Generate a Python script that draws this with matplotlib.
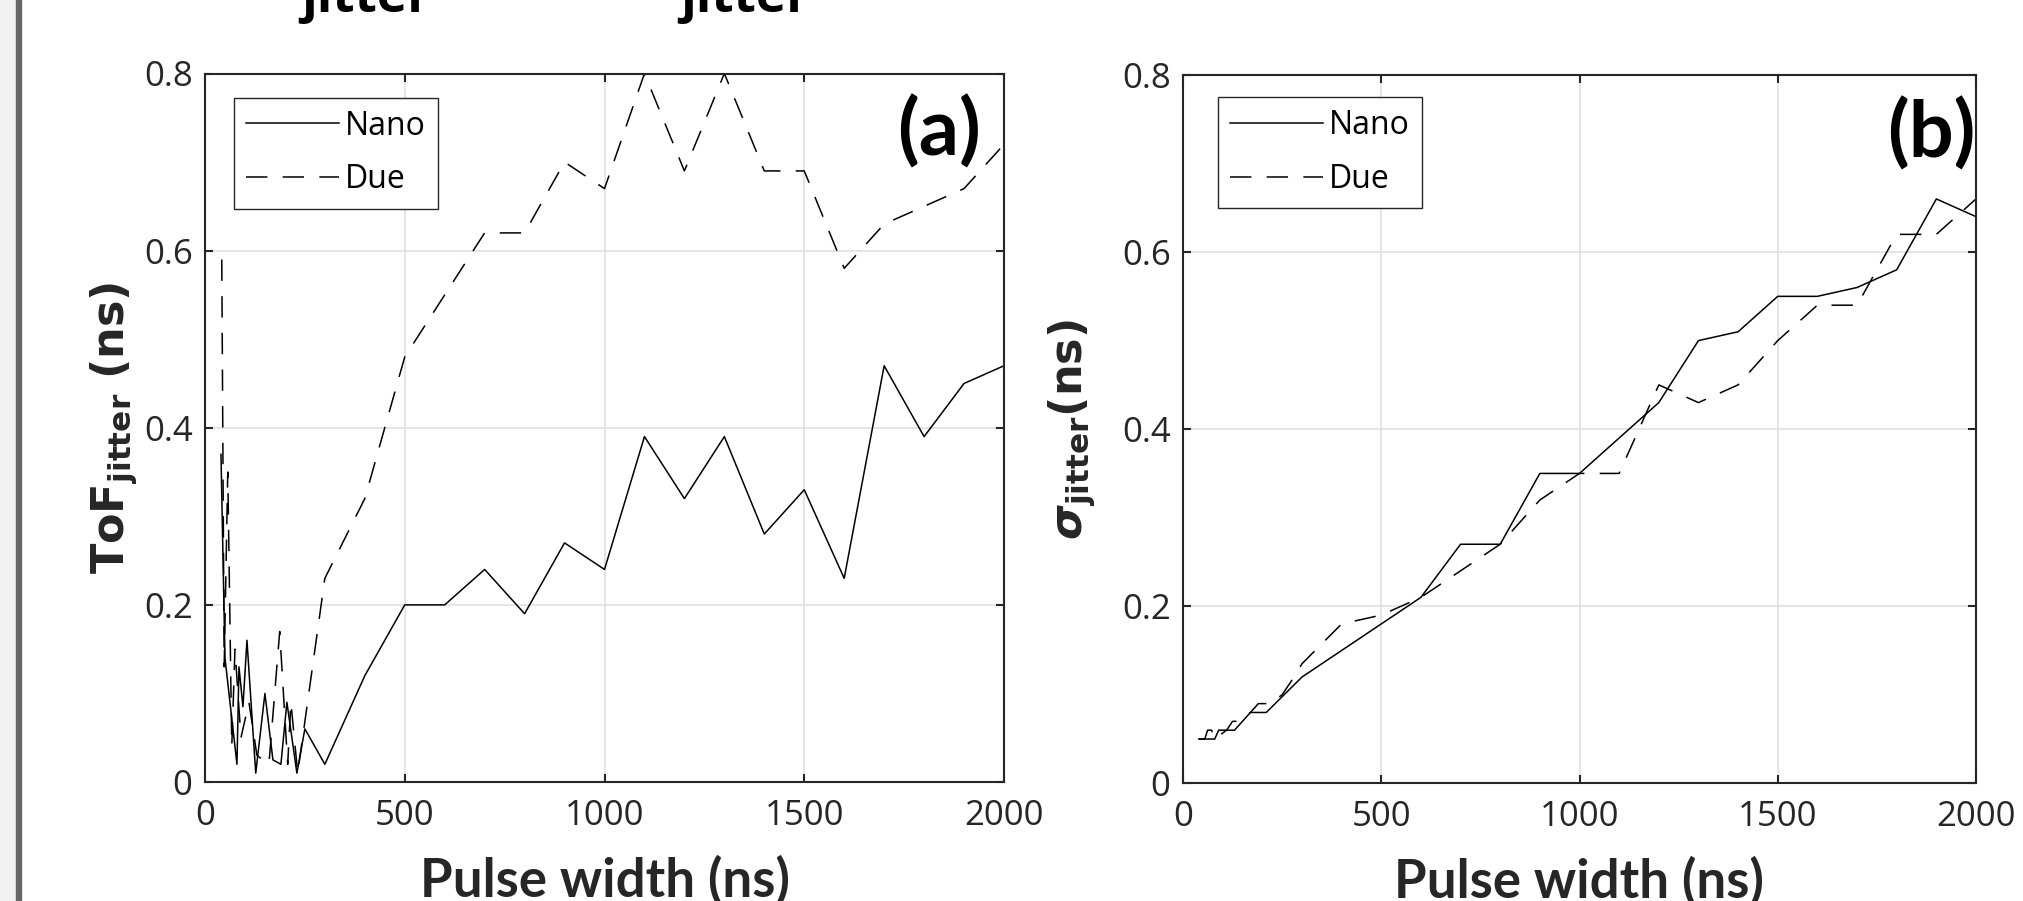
import numpy as np
import matplotlib
matplotlib.use("Agg")
from matplotlib import pyplot as plt
from matplotlib.patches import Rectangle

# panel (a): ToF jitter (ns) vs pulse width (ns)
nano_a_x = [40, 50, 80, 85, 95, 105, 127, 150, 170, 190, 205, 230, 250, 300, 400,
            500, 600, 700, 800, 900, 1000, 1100, 1200, 1300, 1400, 1500, 1600, 1700, 1800, 1900, 2000]
nano_a_y = [0.37, 0.14, 0.02, 0.13, 0.085, 0.16, 0.01, 0.10, 0.025, 0.02, 0.09, 0.01, 0.06, 0.02, 0.12,
            0.20, 0.20, 0.24, 0.19, 0.27, 0.24, 0.39, 0.32, 0.39, 0.28, 0.33, 0.23, 0.47, 0.39, 0.45, 0.47]
due_a_x = [42, 48, 57, 67, 75, 90, 110, 130, 160, 187, 207, 215, 232, 300, 400,
           500, 600, 700, 800, 900, 1000, 1100, 1200, 1300, 1400, 1500, 1600, 1700, 1800, 1900, 2000]
due_a_y = [0.59, 0.13, 0.35, 0.04, 0.15, 0.05, 0.09, 0.03, 0.02, 0.17, 0.02, 0.09, 0.01, 0.23, 0.32,
           0.48, 0.55, 0.62, 0.62, 0.70, 0.67, 0.80, 0.69, 0.80, 0.69, 0.69, 0.58, 0.63, 0.65, 0.67, 0.72]

# panel (b): sigma jitter (ns) vs pulse width (ns)
nano_b_x = [40, 80, 90, 130, 170, 210, 300,
            600, 700, 800, 900, 1000, 1100, 1200, 1300, 1400, 1500, 1600, 1700, 1800, 1900, 2000]
nano_b_y = [0.05, 0.05, 0.06, 0.06, 0.08, 0.08, 0.12,
            0.21, 0.27, 0.27, 0.35, 0.35, 0.39, 0.43, 0.50, 0.51, 0.55, 0.55, 0.56, 0.58, 0.66, 0.64]
due_b_x = [40, 55, 62, 72, 80, 110, 125, 140, 170, 190, 220, 250, 280, 300,
           400, 500, 600, 700, 800, 900, 1000, 1100, 1200, 1300, 1400, 1500, 1600, 1700, 1800, 1900, 2000]
due_b_y = [0.05, 0.05, 0.06, 0.06, 0.05, 0.06, 0.07, 0.07, 0.08, 0.09, 0.09, 0.10, 0.12, 0.135,
           0.18, 0.19, 0.21, 0.24, 0.27, 0.32, 0.35, 0.35, 0.45, 0.43, 0.45, 0.50, 0.54, 0.54, 0.62, 0.62, 0.66]

series_labels = ["Nano", "Due"]
x_ticks = [0, 500, 1000, 1500, 2000]
y_ticks = [0, 0.2, 0.4, 0.6, 0.8]
y_tick_labels = ["0", "0.2", "0.4", "0.6", "0.8"]

plt.rcParams['font.family'] = ['Open Sans', 'DejaVu Sans']
plt.rcParams['mathtext.fontset'] = 'dejavusans'

W, H = 2023, 901
fig = plt.figure(figsize=(W / 100, H / 100), dpi=100)
ink = '#262626'

# grey strip on the left edge of the page
fig.patches.append(Rectangle((0, 0), 16 / W, 1, transform=fig.transFigure, color='#f2f2f2', zorder=0))
fig.patches.append(Rectangle((16 / W, 0), 5 / W, 1, transform=fig.transFigure, color='#666666', zorder=0))

# cut-off subscripts from the caption above
for xp in [301, 680]:
    fig.text(xp / W, 1 - 12 / H, "jitter", family='Open Sans', weight='bold', fontsize=37,
             ha='left', va='baseline', color='black')


def px_axes(l, t, r, b):
    return fig.add_axes([l / W, 1 - b / H, (r - l) / W, (b - t) / H])


def style(ax):
    ax.set_xlim(0, 2000)
    ax.set_ylim(0, 0.8)
    ax.set_xticks(x_ticks)
    ax.set_yticks(y_ticks)
    ax.set_yticklabels(y_tick_labels)
    ax.grid(True, color='#dedede', lw=1.1)
    ax.set_axisbelow(True)
    for s in ax.spines.values():
        s.set_color(ink)
        s.set_linewidth(1.5)
    ax.tick_params(direction='in', top=True, right=True, length=6, width=1.5, color=ink,
                   labelsize=25, labelcolor=ink)
    ax.tick_params(axis='x', pad=12)
    ax.tick_params(axis='y', pad=9)
    ax.set_xlabel("Pulse width (ns)", family='Lato', weight='bold', fontsize=38, color=ink)
    ax.xaxis.set_label_coords(0.5, -0.103)
    ax.xaxis.label.set_va('top')


ax1 = px_axes(205, 73.5, 1004, 782)
ax2 = px_axes(1183, 75, 1976, 783.3)

panels = [
    (ax1, nano_a_x, nano_a_y, due_a_x, due_a_y, '(a)', (29, 24), 23),
    (ax2, nano_b_x, nano_b_y, due_b_x, due_b_y, '(b)', (35, 22), 0),
]

for ax, nx, ny, dx, dy, tag, (lx, ly), tag_dx in panels:
    style(ax)
    w_px = ax.get_position().width * W
    h_px = ax.get_position().height * H
    l1, = ax.plot(nx, ny, color='k', lw=1.1, label=series_labels[0])
    l2, = ax.plot(dx, dy, color='k', lw=1.1, linestyle=(0, (14, 10)), label=series_labels[1])
    leg = ax.legend(handles=[l1, l2], loc='upper left', bbox_to_anchor=(lx / w_px, 1 - ly / h_px),
                    borderaxespad=0, fancybox=False, framealpha=1, edgecolor=ink, fontsize=23,
                    handlelength=2.9, handletextpad=0.2, labelspacing=0.65, borderpad=0.38)
    leg.get_frame().set_linewidth(1.0)
    ax.text(1 - tag_dx / w_px, 1 - 22 / h_px, tag, transform=ax.transAxes,
            ha='right', va='top', family='Lato', weight='bold', fontsize=57, color='black')

ax1.set_ylabel(r'$\mathbf{ToF}_{\mathbf{jitter}}\ \mathbf{(ns)}$', fontsize=32, color=ink)
ax1.yaxis.set_label_coords(-0.082, 0.5)
ax2.set_ylabel(r'$\boldsymbol{\sigma}_{\mathbf{jitter}}\mathbf{(ns)}$', fontsize=32, color=ink)
ax2.yaxis.set_label_coords(-0.108, 0.5)

fig.savefig('out.png', dpi=100)
